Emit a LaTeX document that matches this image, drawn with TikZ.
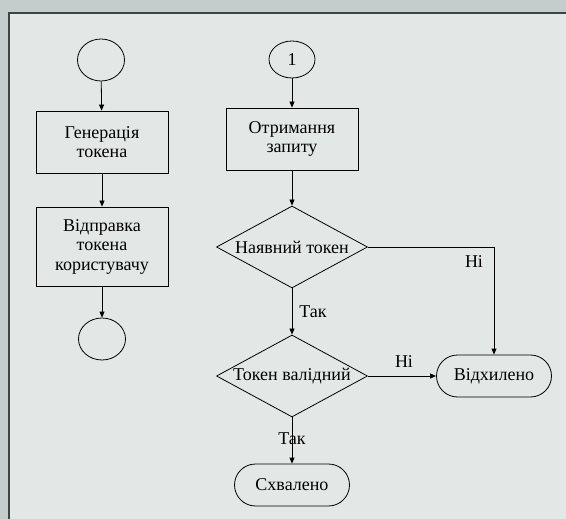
\documentclass[tikz,border=0pt]{standalone}
\usepackage{fontspec}
\setmainfont{Liberation Serif}
\usetikzlibrary{shapes.geometric,shapes.misc,arrows.meta}
\definecolor{outerbg}{HTML}{C4CDCC}
\definecolor{innerbg}{HTML}{E3E7E6}
\definecolor{framecol}{HTML}{3D4444}
\tikzset{
  proc/.style={draw, rectangle, minimum width=132pt, minimum height=62pt, align=center, inner sep=0pt},
  decision/.style={draw, diamond, aspect=1.84, minimum width=151pt, minimum height=82pt, inner sep=0pt},
  term/.style={draw, rounded rectangle, minimum width=115pt, minimum height=42pt, inner sep=0pt},
  conn/.style={draw, ellipse, minimum width=47pt, minimum height=42pt, inner sep=0pt},
  flow/.style={-{Triangle[length=6pt,width=5pt]}},
  lbl/.style={inner sep=0pt}
}
\begin{document}
\begin{tikzpicture}[x=1pt,y=-1pt,line width=0.8pt,
  every node/.style={font=\fontsize{18}{19.5}\selectfont}]
    \useasboundingbox (0,0) rectangle (566,519);
    \fill[outerbg] (0,0) rectangle (566,519);
    \fill[innerbg] (9,13) rectangle (566,519);
    \draw[framecol, line width=2pt] (9,519) -- (9,13) -- (566,13);
    % left column
    \node[conn] (start) at (101,60) {};
    \node[proc] (gen) at (102,142) {Генерація\\токена};
    \node[proc, minimum height=79pt] (send) at (102,246.5) {Відправка\\токена\\користувачу};
    \node[conn] (finish) at (102,339) {};
    \draw[flow] (start) -- (gen);
    \draw[flow] (gen) -- (send);
    \draw[flow] (send) -- (finish);
    % right column
    \node[conn, minimum width=46pt, minimum height=37pt] (one) at (292,59.5) {1};
    \node[proc] (recv) at (292,139) {Отримання\\запиту};
    \node[decision] (has) at (292,247) {Наявний токен};
    \node[decision] (valid) at (292,376) {Токен валідний};
    \node[term] (rej) at (494,376) {Відхилено};
    \node[term] (ok) at (292,485) {Схвалено};
    \draw[flow] (one) -- (recv);
    \draw[flow] (recv) -- (has);
    \draw[flow] (has.east) -| (rej.north);
    \draw[flow] (has) -- (valid);
    \draw[flow] (valid) -- (rej);
    \draw[flow] (valid) -- (ok);
    \node[lbl] (no1) at (474,262) {Ні};
    \node[lbl] (yes1) at (313,312) {Так};
    \node[lbl] (no2) at (404,362) {Ні};
    \node[lbl] (yes2) at (292,439) {Так};
\end{tikzpicture}
\end{document}
